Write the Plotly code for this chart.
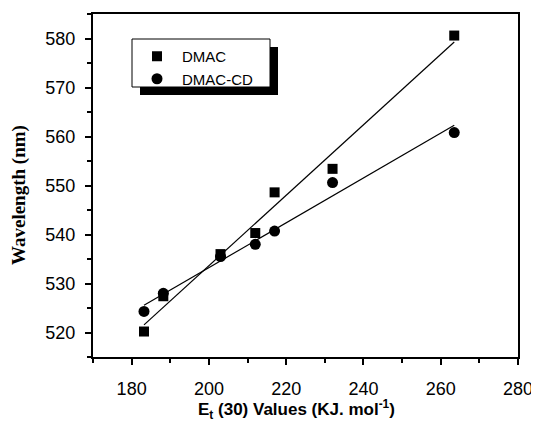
import numpy as np
import plotly.graph_objects as go

# Data
et30 = [183.2, 188.2, 203.0, 212.0, 217.0, 232.0, 263.5]
dmac = [520.2, 527.4, 536.0, 540.3, 548.6, 553.4, 580.6]
dmac_cd = [524.3, 528.0, 535.5, 538.0, 540.7, 550.6, 560.8]
series_names = ["DMAC", "DMAC-CD"]
x_ticks = [180, 200, 220, 240, 260, 280]
y_ticks = [520, 530, 540, 550, 560, 570, 580]

fig = go.Figure()

def fit_line(x, y):
    k, b = np.polyfit(x, y, 1)
    xs = [min(x), max(x)]
    return xs, [k * v + b for v in xs]

for ys in (dmac, dmac_cd):
    fx, fy = fit_line(et30, ys)
    fig.add_trace(go.Scatter(x=fx, y=fy, mode="lines", line=dict(color="black", width=1.2),
                             showlegend=False, hoverinfo="skip"))

fig.add_trace(go.Scatter(x=et30, y=dmac, mode="markers", name=series_names[0],
                         marker=dict(symbol="square", size=10, color="black")))
fig.add_trace(go.Scatter(x=et30, y=dmac_cd, mode="markers", name=series_names[1],
                         marker=dict(symbol="circle", size=11, color="black")))

axis_common = dict(showline=True, linecolor="black", linewidth=2, mirror=True,
                   ticks="outside", ticklen=6, tickwidth=1.5, tickcolor="black",
                   showgrid=False, zeroline=False, automargin=False,
                   tickfont=dict(family="Arial", size=18, color="black"))

fig.update_xaxes(range=[170, 280], tickvals=x_ticks, ticklabelstandoff=8,
                 minor=dict(dtick=10, tick0=170, ticks="outside", ticklen=4, tickcolor="black"),
                 **axis_common)
fig.update_yaxes(range=[515, 585], tickvals=y_ticks, ticklabelstandoff=6,
                 minor=dict(dtick=5, tick0=515, ticks="outside", ticklen=4, tickcolor="black"),
                 **axis_common)

# page body has an 8px margin: work in screen coordinates and shift
OFF = 8
FW, FH = 539 - OFF, 426 - OFF
W, H, L, T = 425, 343, 93 - OFF, 14 - OFF
def px(xp): return (xp - OFF - L) / W
def py(yp): return (T + H - (yp - OFF)) / H

# axis titles
fig.add_annotation(text="E<sub>t</sub> (30) Values (KJ. mol<sup>-1</sup>)", xref="paper", yref="paper",
                   x=px(296), y=py(409), xanchor="center", yanchor="middle", showarrow=False,
                   font=dict(family="Arial", size=17, color="black", weight="bold"))
fig.add_annotation(text="Wavelength (nm)", xref="paper", yref="paper",
                   x=px(19), y=py(195), xanchor="center", yanchor="middle", showarrow=False,
                   textangle=-90,
                   font=dict(family="Times New Roman", size=19, color="black", weight="bold"))

# legend frame with drop shadow
fig.add_shape(type="rect", xref="paper", yref="paper", x0=px(140), x1=px(278), y0=py(95), y1=py(47),
              fillcolor="black", line=dict(width=0), layer="above")
fig.add_shape(type="rect", xref="paper", yref="paper", x0=px(132), x1=px(270), y0=py(87), y1=py(39),
              fillcolor="white", line=dict(color="black", width=1), layer="above")

fig.update_layout(
    width=FW, height=FH,
    margin=dict(l=L, r=FW - L - W, t=T, b=FH - T - H),
    plot_bgcolor="white", paper_bgcolor="white",
    legend=dict(x=px(132), y=py(40), xanchor="left", yanchor="top", itemwidth=40,
                bgcolor="rgba(0,0,0,0)", borderwidth=0,
                font=dict(family="Arial", size=15, color="black")),
)

fig.write_html("out.html")
